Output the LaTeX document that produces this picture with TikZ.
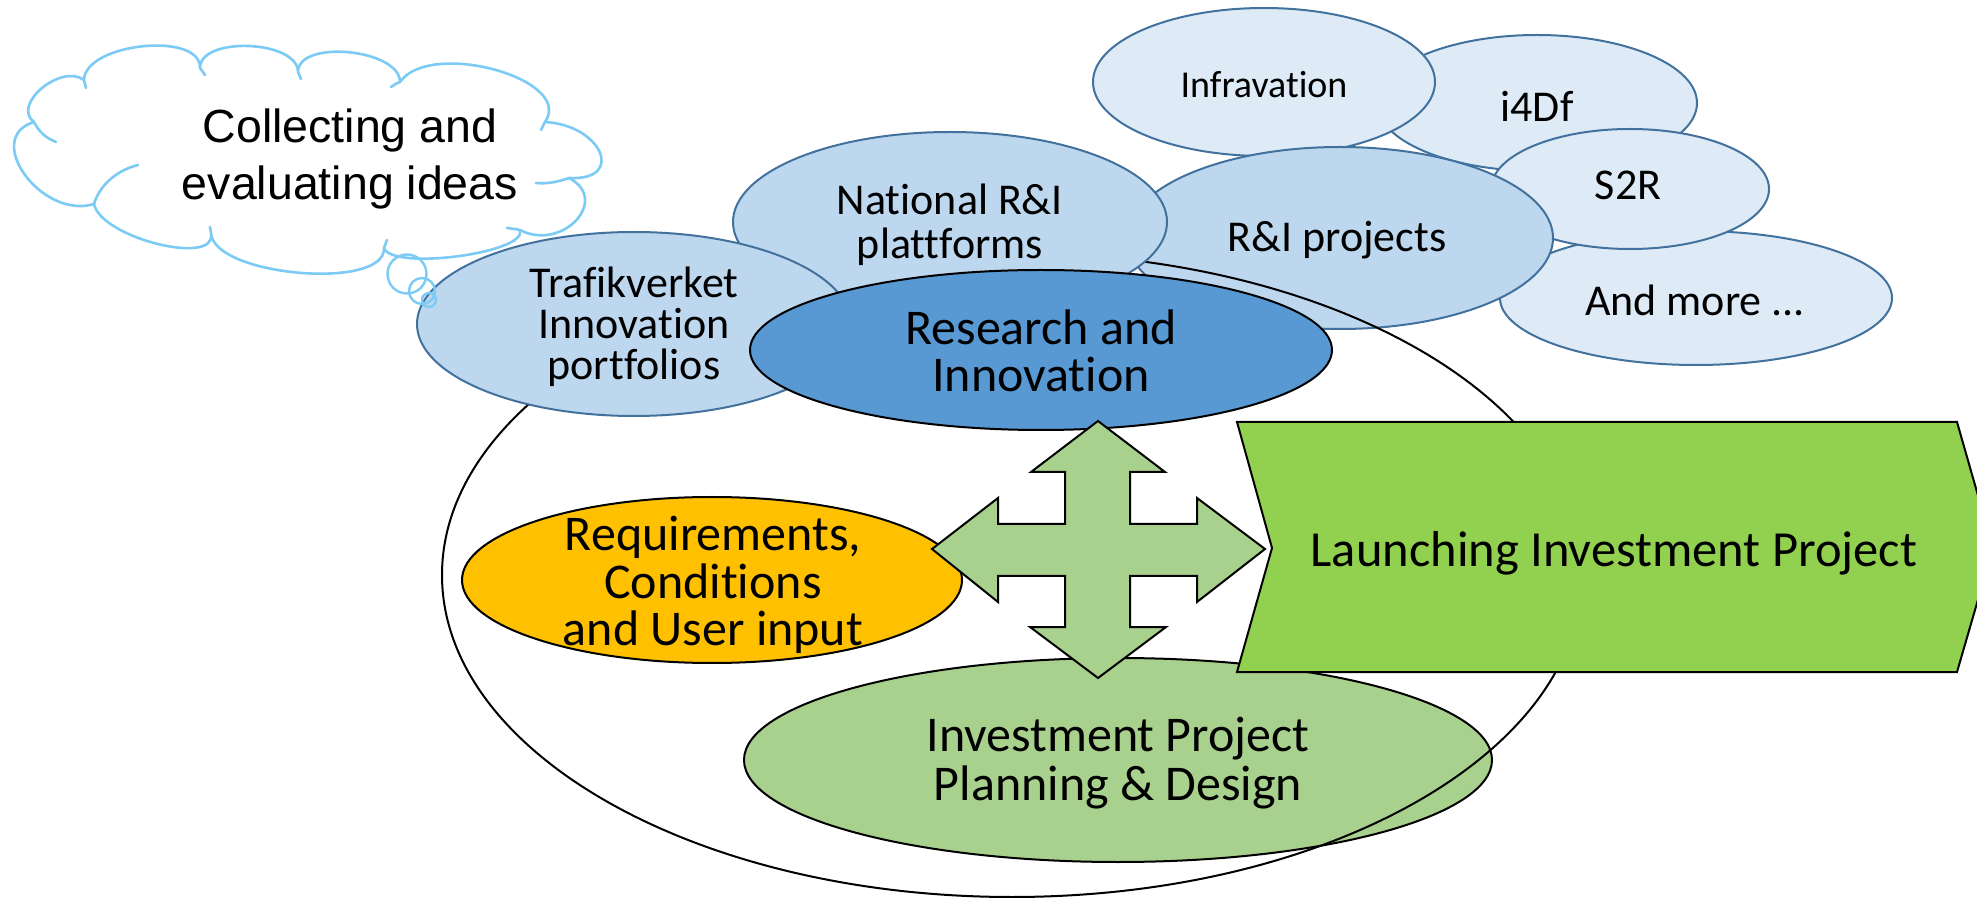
\documentclass[tikz,border=0pt]{standalone}
\usepackage{fontspec}
\setmainfont{Carlito}[Ligatures=NoCommon, Contextuals=NoAlternate]
\newfontfamily\arialfont{Liberation Sans}
\usetikzlibrary{shapes.geometric}
\definecolor{lightfill}{HTML}{DEEBF7}
\definecolor{midfill}{HTML}{BDD7EE}
\definecolor{blueline}{HTML}{41719C}
\definecolor{rifill}{HTML}{5898D3}
\definecolor{orangefill}{HTML}{FFC000}
\definecolor{sagefill}{HTML}{A9D18E}
\definecolor{limefill}{HTML}{92D050}
\definecolor{cloudline}{HTML}{7CCBF4}
\tikzset{
  ell/.style={ellipse, inner sep=0pt, outer sep=0pt},
  lightell/.style={ell, fill=lightfill, draw=blueline, line width=1pt},
  midell/.style={ell, fill=midfill, draw=blueline, line width=1pt},
  blackell/.style={ell, draw=black, line width=1pt},
  txt/.style={align=center, inner sep=0pt, text=black},
  smalltxt/.style={txt, font=\fontsize{22}{21}\selectfont},
  bigtxt/.style={txt, font=\fontsize{25}{23}\selectfont},
  cloudpen/.style={draw=cloudline, line width=1.3pt, line cap=round, line join=round},
  bubble/.style={circle, draw=cloudline, line width=1.2pt, inner sep=0pt}
}
\begin{document}
\begin{tikzpicture}[x=0.5pt,y=-0.5pt]
\useasboundingbox (0,0) rectangle (1977,898);
% outer cluster
\node[lightell, minimum width=160pt, minimum height=68pt] (i4E) at (1537,103) {};
\node[lightell, minimum width=171pt, minimum height=74pt] (infE) at (1264,82) {};
\node[lightell, minimum width=196pt, minimum height=67pt] (moreE) at (1696,298) {};
\node[lightell, minimum width=139pt, minimum height=60pt] (s2rE) at (1630,189) {};
\node[midell, minimum width=213pt, minimum height=91pt] (riE) at (1340,238) {};
\node[smalltxt] (i4T) at (1537,106) {i4Df};
\node[txt, font=\fontsize{19}{19}\selectfont] (infT) at (1264,85) {Infravation};
\node[smalltxt] (moreT) at (1695,300) {And more ...};
\node[smalltxt] (s2rT) at (1628,185) {S2R};
\node[smalltxt] (riT) at (1337,240) {R\&I projects};
% big frame
\node[blackell, minimum width=570pt, minimum height=322pt] (outer) at (1012,575) {};
\node[midell, minimum width=217pt, minimum height=90pt] (natE) at (950,222) {};
\node[txt, font=\fontsize{22}{22}\selectfont] (natT) at (950,225) {National R\&I\\plattforms};
\node[midell, minimum width=217pt, minimum height=92pt] (trafE) at (634,324) {};
\node[txt, font=\fontsize{22}{20.5}\selectfont] (trafT) at (634,327) {Trafikverket\\Innovation\\portfolios};
\node[blackell, fill=rifill, minimum width=291pt, minimum height=80pt] (resE) at (1041,350) {};
\node[bigtxt, font=\fontsize{25}{23.5}\selectfont] (resT) at (1041,351) {Research and\\Innovation};
\node[blackell, fill=orangefill, minimum width=250pt, minimum height=83pt] (reqE) at (712,580) {};
\node[bigtxt, font=\fontsize{25}{23.6}\selectfont] (reqT) at (713,585) {Requirements,\\Conditions\\and User input};
\node[blackell, fill=sagefill, minimum width=374pt, minimum height=102pt] (invE) at (1118,760) {};
\begin{scope}
  \clip (1118,760) ellipse [x radius=187pt, y radius=51pt];
  \draw[line width=1pt] (1012,575) ellipse [x radius=285pt, y radius=161pt];
\end{scope}
\node[bigtxt, font=\fontsize{25}{24.3}\selectfont] (invT) at (1118,763) {Investment Project\\Planning \& Design};
% chevron
\draw[fill=limefill, draw=black, line width=1pt]
  (1237,422) -- (1957,422) -- (1993,548) -- (1957,672) -- (1237,672) -- (1272,548) -- cycle;
\node[txt, font=\fontsize{25.25}{25}\selectfont] (launchT) at (1614,553) {Launching Investment Project};
% quad arrow
\draw[fill=sagefill, draw=black, line width=1pt, line join=miter]
  (1098,421) -- (1165,472) -- (1130,472) -- (1130,524) -- (1197,524) -- (1197,498)
  -- (1265,549) -- (1197,602) -- (1197,576) -- (1130,576) -- (1130,627) -- (1166,627)
  -- (1098,678) -- (1030,627) -- (1065,627) -- (1065,576) -- (998,576) -- (998,602)
  -- (932,549) -- (998,498) -- (998,524) -- (1065,524) -- (1065,472) -- (1031,472) -- cycle;
\node[inner sep=0pt] (quad) at (1098,550) {};
% thought cloud
\draw[cloudpen, fill=white]
 (34,122) .. controls (11,105) and (61,63) .. (84,80)
 .. controls (85,43) and (201,31) .. (200,68)
 .. controls (200,36) and (298,40) .. (298,72)
 .. controls (298,39) and (400,49) .. (400,82)
 .. controls (430,39) and (575,79) .. (545,122)
 .. controls (602,125) and (626,181) .. (569,178)
 .. controls (611,200) and (562,252) .. (520,230)
 .. controls (528,253) and (392,271) .. (384,248)
 .. controls (386,291) and (213,276) .. (211,233)
 .. controls (218,267) and (101,238) .. (94,204)
 .. controls (42,220) and (-18,138) .. (34,122) -- cycle;
\draw[cloudpen] (34,122) .. controls (39,132) and (46,138) .. (56,142);
\draw[cloudpen] (84,80) -- (86,88);
\draw[cloudpen] (200,68) -- (205,75);
\draw[cloudpen] (298,72) -- (301,79);
\draw[cloudpen] (400,82) .. controls (397,83) .. (391,87);
\draw[cloudpen] (545,122) -- (541,130);
\draw[cloudpen] (569,178) .. controls (558,182) and (547,184) .. (536,183);
\draw[cloudpen] (520,230) .. controls (515,229) .. (507,228);
\draw[cloudpen] (384,248) -- (387,240);
\draw[cloudpen] (211,233) -- (210,227);
\draw[cloudpen] (94,204) .. controls (100,184) and (118,170) .. (138,165);
\node[txt, font=\arialfont\fontsize{23.25}{28.5}\selectfont] (cloudT) at (350,159) {Collecting and\\evaluating ideas};
\node[bubble, minimum size=19.5pt] (b1) at (407,274) {};
\node[bubble, minimum size=13pt] (b2) at (422,291) {};
\node[bubble, minimum size=7pt] (b3) at (429,300) {};
\end{tikzpicture}
\end{document}
